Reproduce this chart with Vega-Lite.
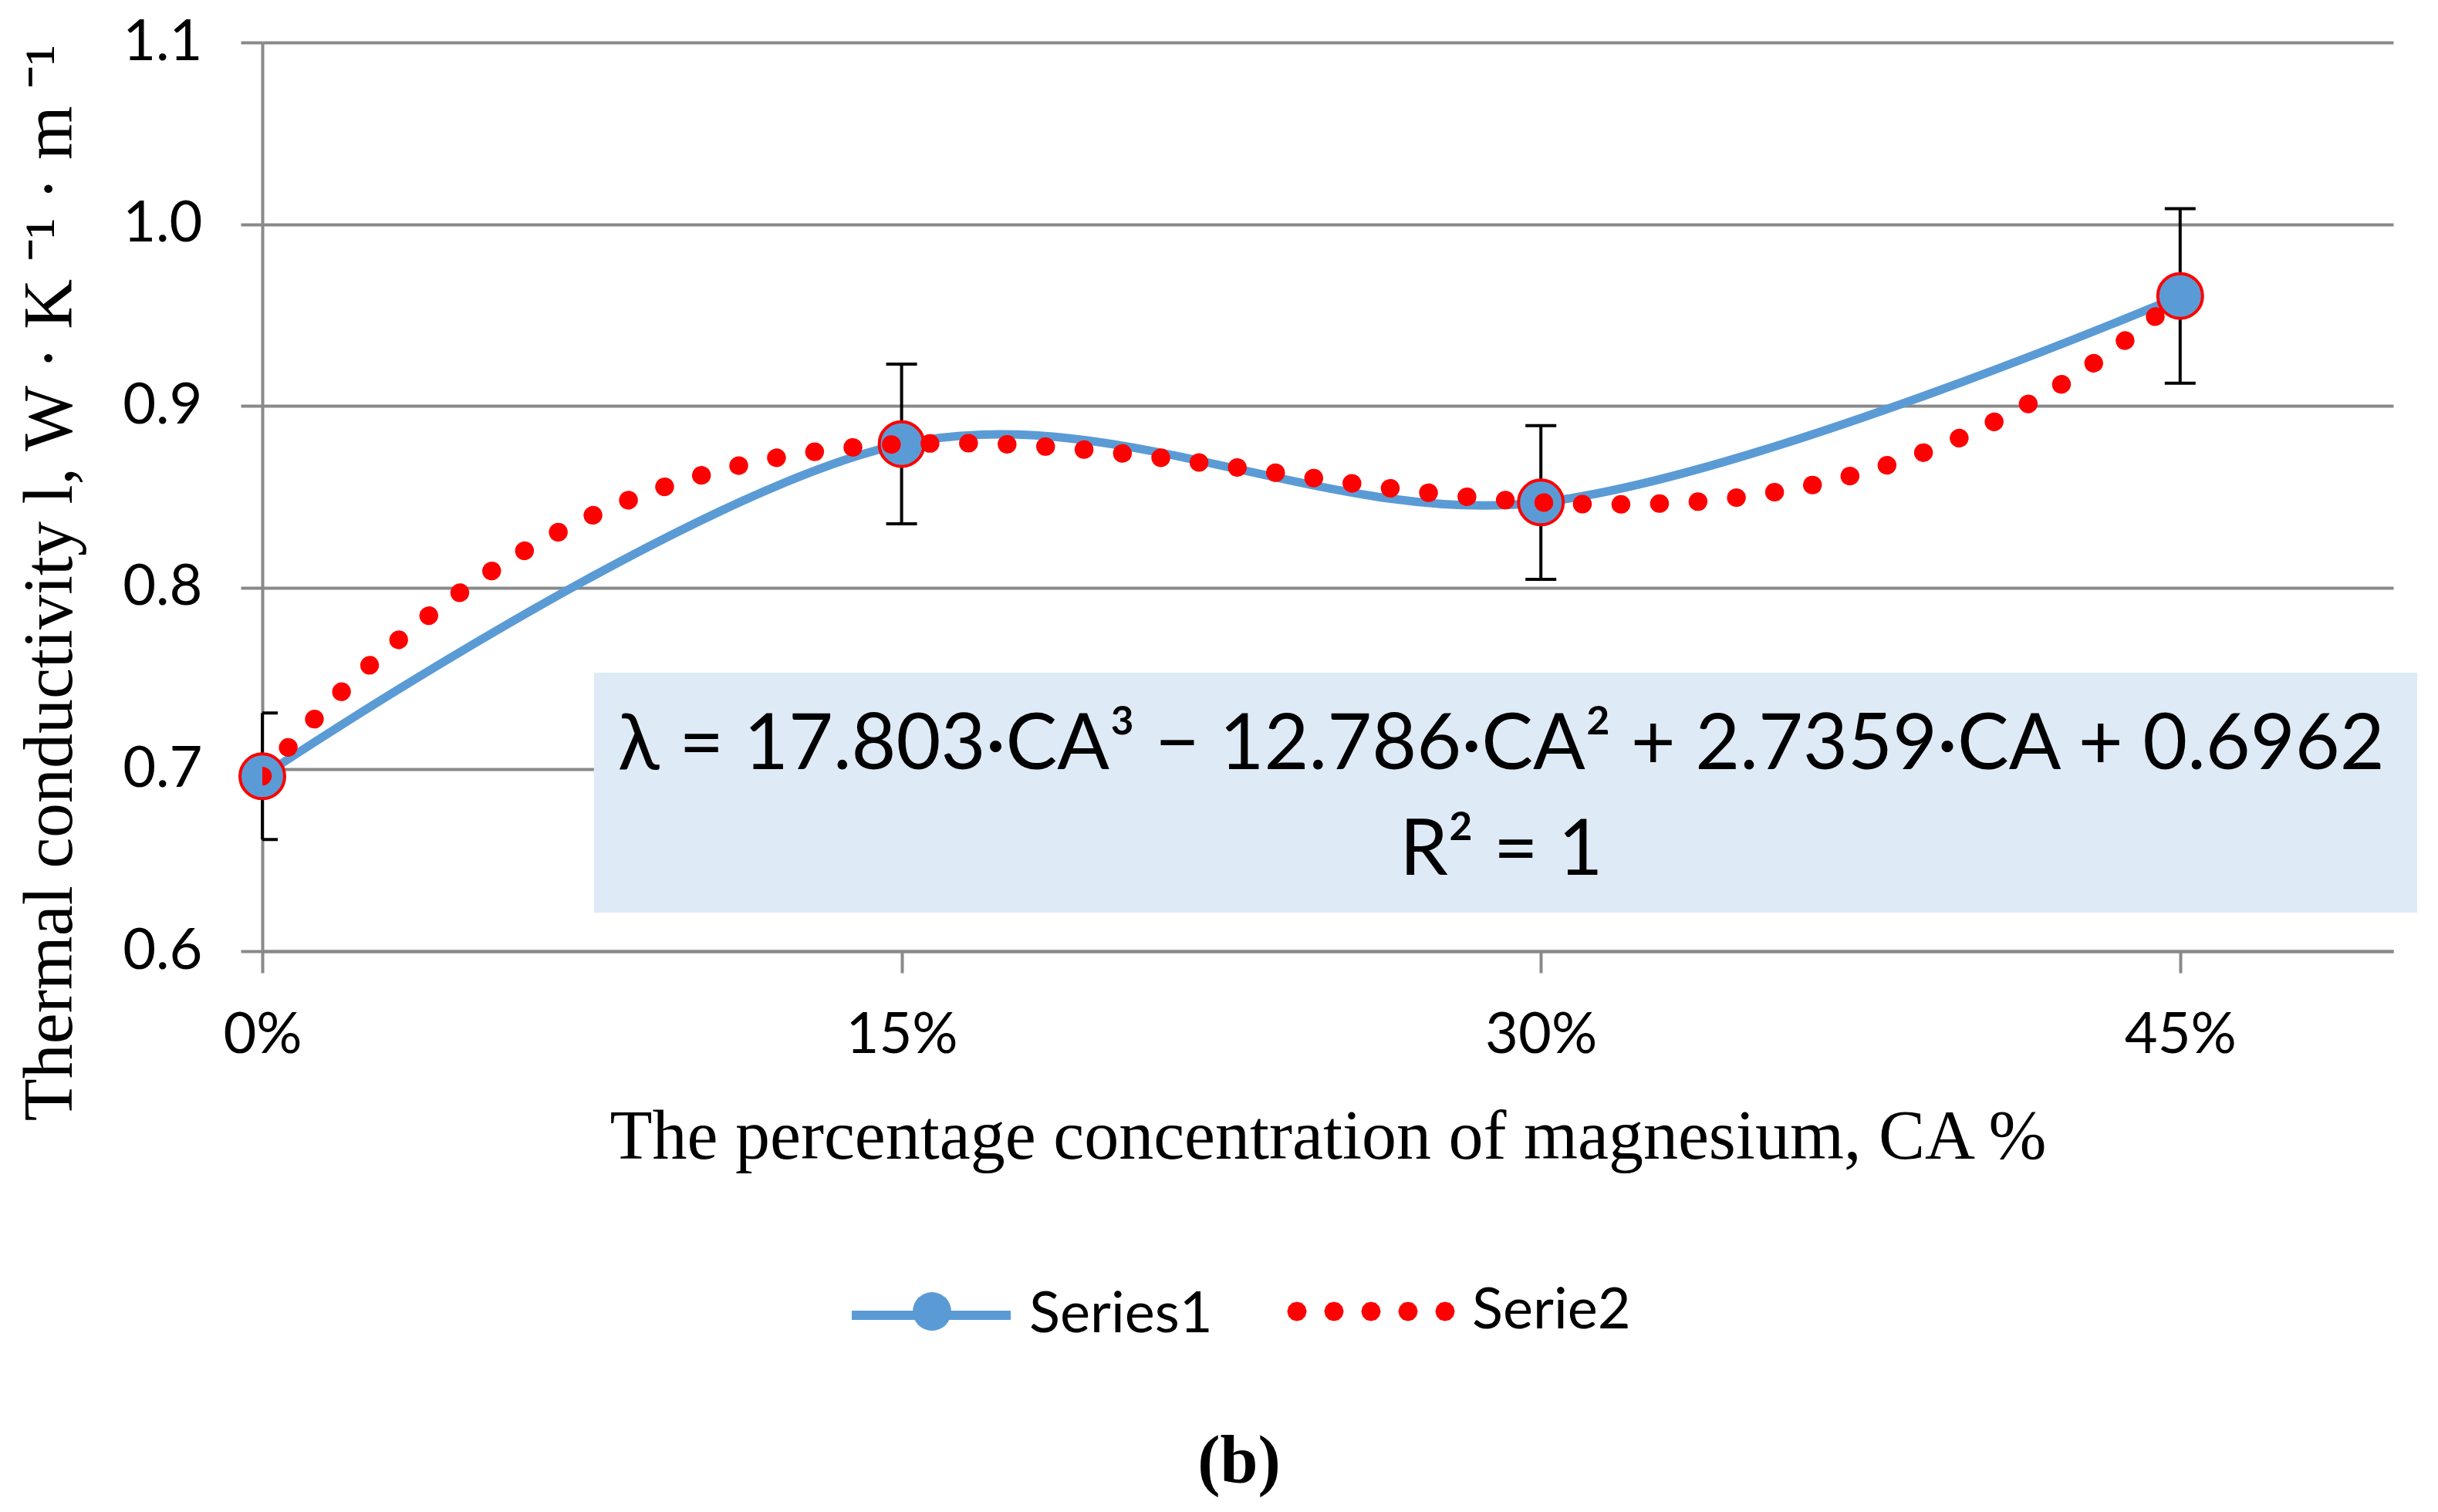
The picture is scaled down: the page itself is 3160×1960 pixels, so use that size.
{
  "$schema": "https://vega.github.io/schema/vega-lite/v6.json",
  "description": "Thermal conductivity vs magnesium concentration",
  "width": 2762,
  "height": 1178,
  "autosize": {"type": "none"},
  "padding": {"left": 340, "top": 55, "right": 58, "bottom": 727},
  "background": "white",
  "title": {
    "text": "(b)",
    "orient": "bottom",
    "anchor": "middle",
    "font": "Liberation Serif",
    "fontSize": 88,
    "fontWeight": "bold",
    "color": "black",
    "offset": 94,
    "dx": -115,
    "dy": 16
  },
  "datasets": {
    "s1": [
      {"c": 0, "k": 0.6962, "lo": 0.6614, "hi": 0.7310, "series": "Series1"},
      {"c": 0.15, "k": 0.879, "lo": 0.8351, "hi": 0.9230, "series": "Series1"},
      {"c": 0.30, "k": 0.8469, "lo": 0.8046, "hi": 0.8892, "series": "Series1"},
      {"c": 0.45, "k": 0.9605, "lo": 0.9125, "hi": 1.0085, "series": "Series1"}
    ],
    "s2": [
      {"c": 0, "k": 0.6962, "series": "Serie2"},
      {"c": 0.015, "k": 0.7344, "series": "Serie2"},
      {"c": 0.03, "k": 0.7673, "series": "Serie2"},
      {"c": 0.045, "k": 0.7950, "series": "Serie2"},
      {"c": 0.06, "k": 0.8182, "series": "Serie2"},
      {"c": 0.075, "k": 0.8370, "series": "Serie2"},
      {"c": 0.09, "k": 0.8518, "series": "Serie2"},
      {"c": 0.105, "k": 0.8631, "series": "Serie2"},
      {"c": 0.12, "k": 0.8712, "series": "Serie2"},
      {"c": 0.135, "k": 0.8763, "series": "Serie2"},
      {"c": 0.15, "k": 0.8790, "series": "Serie2"},
      {"c": 0.165, "k": 0.8795, "series": "Serie2"},
      {"c": 0.18, "k": 0.8782, "series": "Serie2"},
      {"c": 0.195, "k": 0.8755, "series": "Serie2"},
      {"c": 0.21, "k": 0.8717, "series": "Serie2"},
      {"c": 0.225, "k": 0.8673, "series": "Serie2"},
      {"c": 0.24, "k": 0.8625, "series": "Serie2"},
      {"c": 0.255, "k": 0.8576, "series": "Serie2"},
      {"c": 0.27, "k": 0.8532, "series": "Serie2"},
      {"c": 0.285, "k": 0.8495, "series": "Serie2"},
      {"c": 0.3, "k": 0.8469, "series": "Serie2"},
      {"c": 0.315, "k": 0.8458, "series": "Serie2"},
      {"c": 0.33, "k": 0.8464, "series": "Serie2"},
      {"c": 0.345, "k": 0.8493, "series": "Serie2"},
      {"c": 0.36, "k": 0.8547, "series": "Serie2"},
      {"c": 0.375, "k": 0.8630, "series": "Serie2"},
      {"c": 0.39, "k": 0.8745, "series": "Serie2"},
      {"c": 0.405, "k": 0.8897, "series": "Serie2"},
      {"c": 0.42, "k": 0.9088, "series": "Serie2"},
      {"c": 0.435, "k": 0.9323, "series": "Serie2"},
      {"c": 0.45, "k": 0.9605, "series": "Serie2"}
    ],
    "note": [
      {"x0": 0.0778, "x1": 0.5056, "y0": 0.6212, "y1": 0.7532}
    ],
    "eq": [
      {"x": 0.2907, "y": 0.7129, "t": "λ = 17.803·CA³ − 12.786·CA² + 2.7359·CA  + 0.6962"},
      {"x": 0.2907, "y": 0.6548, "t": "R² = 1"}
    ]
  },
  "layer": [
    {
      "data": {"name": "note"},
      "mark": {"type": "rect", "fill": "#DEEAF6"},
      "encoding": {
        "x": {
          "field": "x0",
          "type": "quantitative",
          "scale": {"domain": [0, 0.5], "nice": false},
          "axis": {
            "values": [0, 0.15, 0.3, 0.45],
            "format": ".0%",
            "title": "The percentage concentration of magnesium, CA %",
            "titleFont": "Liberation Serif",
            "titleFontSize": 90,
            "titleFontWeight": "normal",
            "titleColor": "black",
            "titleBaseline": "alphabetic",
            "titleY": 268,
            "labelFont": "Lato",
            "labelFontSize": 74,
            "labelColor": "black",
            "labelPadding": 45,
            "labelFlush": false,
            "labelOverlap": false,
            "tickSize": 28,
            "tickWidth": 4,
            "tickColor": "#898989",
            "domainColor": "#898989",
            "domainWidth": 4,
            "grid": false
          }
        },
        "x2": {"field": "x1"},
        "y": {
          "field": "y0",
          "type": "quantitative",
          "scale": {"domain": [0.6, 1.1], "nice": false, "zero": false},
          "axis": {
            "values": [0.6, 0.7, 0.8, 0.9, 1.0, 1.1],
            "format": ".1f",
            "title": "Thermal conductivity l, W · K ⁻¹ · m ⁻¹",
            "titleFont": "Liberation Serif",
            "titleFontSize": 90,
            "titleFontWeight": "normal",
            "titleColor": "black",
            "titleAngle": 270,
            "titleAlign": "center",
            "titleBaseline": "alphabetic",
            "titleX": -248,
            "titleY": 700,
            "labelFont": "Lato",
            "labelFontSize": 74,
            "labelColor": "black",
            "labelPadding": 50,
            "tickSize": 28,
            "tickWidth": 4,
            "tickColor": "#898989",
            "domainColor": "#898989",
            "domainWidth": 4,
            "grid": true,
            "gridColor": "#898989",
            "gridWidth": 4
          }
        },
        "y2": {"field": "y1"}
      }
    },
    {
      "data": {"name": "s1"},
      "mark": {"type": "rule", "color": "black", "strokeWidth": 4},
      "encoding": {
        "x": {"field": "c", "type": "quantitative"},
        "y": {"field": "lo", "type": "quantitative"},
        "y2": {"field": "hi"}
      }
    },
    {
      "data": {"name": "s1"},
      "mark": {"type": "tick", "orient": "horizontal", "color": "black", "size": 40, "thickness": 4, "opacity": 1, "clip": true},
      "encoding": {
        "x": {"field": "c", "type": "quantitative"},
        "y": {"field": "lo", "type": "quantitative"}
      }
    },
    {
      "data": {"name": "s1"},
      "mark": {"type": "tick", "orient": "horizontal", "color": "black", "size": 40, "thickness": 4, "opacity": 1, "clip": true},
      "encoding": {
        "x": {"field": "c", "type": "quantitative"},
        "y": {"field": "hi", "type": "quantitative"}
      }
    },
    {
      "data": {"name": "s1"},
      "mark": {"type": "line", "interpolate": "cardinal", "strokeWidth": 11},
      "encoding": {
        "x": {"field": "c", "type": "quantitative"},
        "y": {"field": "k", "type": "quantitative"},
        "color": {
          "field": "series",
          "type": "nominal",
          "scale": {"domain": ["Series1"], "range": ["#5B9BD5"]},
          "legend": {
            "orient": "none",
            "legendX": 758,
            "legendY": 1541,
            "title": null,
            "symbolType": "stroke",
            "symbolSize": 42436,
            "symbolStrokeWidth": 12,
            "labelFont": "Lato",
            "labelFontSize": 74,
            "labelColor": "black",
            "labelOffset": 18,
            "labelLimit": 0,
            "padding": 0
          }
        }
      }
    },
    {
      "data": {"name": "s1"},
      "mark": {"type": "point", "filled": true, "fill": "#5B9BD5", "stroke": "#FF0000", "strokeWidth": 4, "size": 3364, "opacity": 1},
      "encoding": {
        "x": {"field": "c", "type": "quantitative"},
        "y": {"field": "k", "type": "quantitative"},
        "shape": {
          "field": "series",
          "type": "nominal",
          "scale": {"domain": ["Series1"], "range": ["circle"]},
          "legend": {
            "orient": "none",
            "legendX": 841,
            "legendY": 1618,
            "title": null,
            "labelExpr": "''",
            "symbolSize": 2500,
            "symbolFillColor": "#5B9BD5",
            "symbolStrokeColor": "#FF0000",
            "symbolStrokeWidth": 4,
            "symbolOpacity": 1,
            "padding": 0
          }
        }
      }
    },
    {
      "data": {"name": "s2"},
      "mark": {"type": "line", "interpolate": "monotone", "strokeWidth": 24, "strokeCap": "round", "clip": true},
      "encoding": {
        "x": {"field": "c", "type": "quantitative"},
        "y": {"field": "k", "type": "quantitative"},
        "strokeDash": {"value": [0.5, 49.5]},
        "color": {
          "field": "series",
          "type": "nominal",
          "scale": {"domain": ["Serie2"], "range": ["#FF0000"]},
          "legend": {
            "orient": "none",
            "legendX": 1333,
            "legendY": 1541,
            "title": null,
            "symbolType": "M-0.82,0l-0.015,0.056l-0.041,0.041l-0.056,0.015l-0.056,-0.015l-0.041,-0.041l-0.015,-0.056l0.015,-0.056l0.041,-0.041l0.056,-0.015l0.056,0.015l0.041,0.041zM-0.354,0l-0.015,0.056l-0.041,0.041l-0.056,0.015l-0.056,-0.015l-0.041,-0.041l-0.015,-0.056l0.015,-0.056l0.041,-0.041l0.056,-0.015l0.056,0.015l0.041,0.041zM0.112,0l-0.015,0.056l-0.041,0.041l-0.056,0.015l-0.056,-0.015l-0.041,-0.041l-0.015,-0.056l0.015,-0.056l0.041,-0.041l0.056,-0.015l0.056,0.015l0.041,0.041zM0.578,0l-0.015,0.056l-0.041,0.041l-0.056,0.015l-0.056,-0.015l-0.041,-0.041l-0.015,-0.056l0.015,-0.056l0.041,-0.041l0.056,-0.015l0.056,0.015l0.041,0.041zM1.044,0l-0.015,0.056l-0.041,0.041l-0.056,0.015l-0.056,-0.015l-0.041,-0.041l-0.015,-0.056l0.015,-0.056l0.041,-0.041l0.056,-0.015l0.056,0.015l0.041,0.041z",
            "symbolSize": 42436,
            "symbolFillColor": "#FF0000",
            "symbolStrokeColor": "#FF0000",
            "symbolStrokeWidth": 2,
            "symbolOpacity": 1,
            "labelFont": "Lato",
            "labelFontSize": 74,
            "labelColor": "black",
            "labelOffset": 27,
            "labelLimit": 0,
            "padding": 0
          }
        }
      }
    },
    {
      "data": {"name": "eq"},
      "mark": {"type": "text", "font": "Lato, DejaVu Sans", "fontSize": 100, "align": "center", "baseline": "middle", "color": "black"},
      "encoding": {
        "x": {"field": "x", "type": "quantitative"},
        "y": {"field": "y", "type": "quantitative"},
        "text": {"field": "t"}
      }
    }
  ],
  "resolve": {"scale": {"color": "independent"}},
  "config": {
    "view": {"stroke": null}
  }
}
